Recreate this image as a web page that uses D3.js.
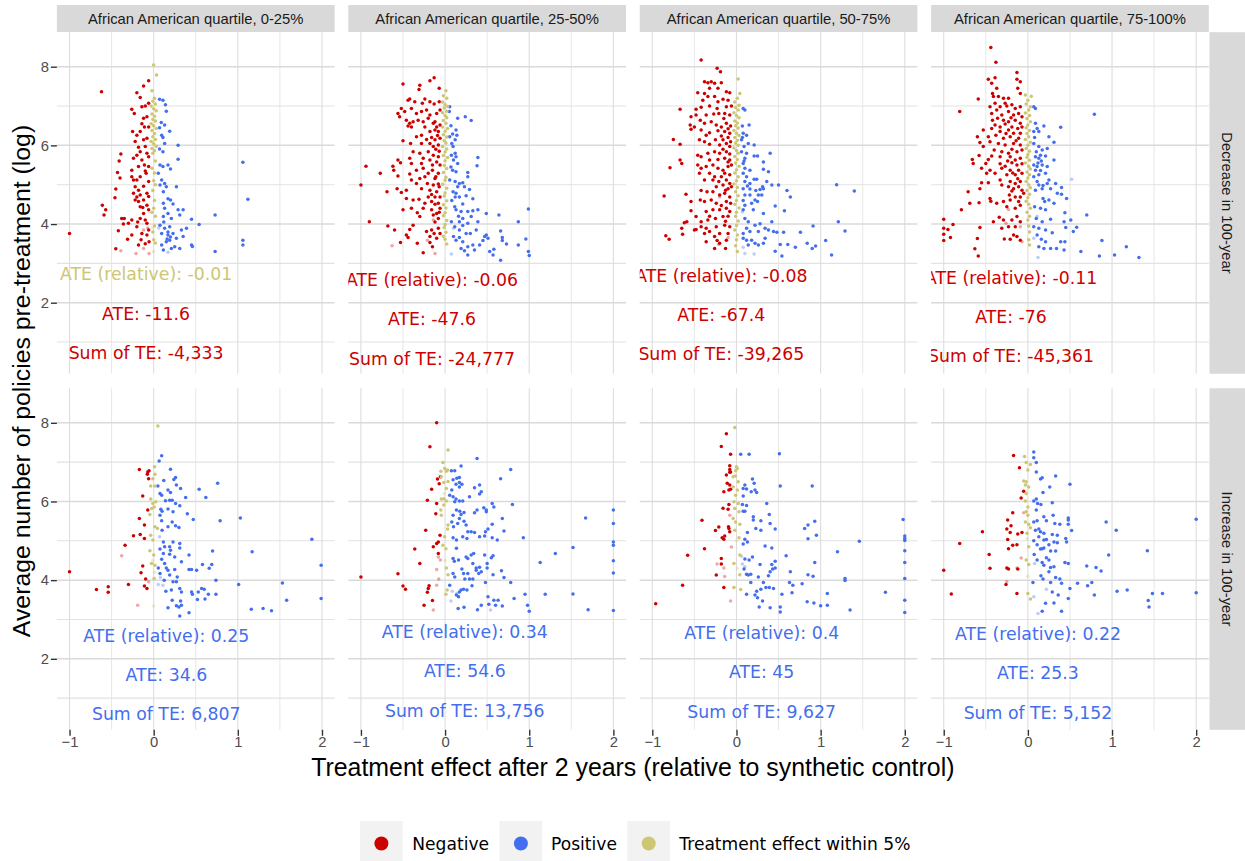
<!DOCTYPE html>
<html><head><meta charset="utf-8">
<script src="https://cdn.jsdelivr.net/npm/d3@7"></script>
<style>body{margin:0;background:#fff}svg{display:block}</style>
</head><body><svg id="c" width="1245" height="861"></svg>
<script>
// ---------------- DATA ----------------
const colLabels = ["African American quartile, 0-25%","African American quartile, 25-50%","African American quartile, 50-75%","African American quartile, 75-100%"];
const rowLabels = ["Decrease in 100-year","Increase in 100-year"];
const xMajor = [-1,0,1,2], xMinor = [-0.5,0.5,1.5];
const yMajor = [2,4,6,8], yMinor = [1,3,5,7];
const legendLabels = ["Negative","Positive","Treatment effect within 5%"];
const xTitle = "Treatment effect after 2 years (relative to synthetic control)";
const yTitle = "Average number of policies pre-treatment (log)";

// points: [x, y] ; third element 1 = faded point
const dec_q1_neg = [[-0.62,7.36],[-1.0,3.76],[-0.61,4.48],[-0.59,4.23],[-0.57,4.36],[-0.45,4.89],[-0.46,4.67],[-0.43,5.31],[-0.41,5.6],[-0.39,5.78],[-0.40,5.17],[-0.42,3.83],[-0.45,3.37],[-0.38,4.14],[-0.35,4.14],[-0.36,4.0],[-0.31,3.61],[-0.26,4.1],[-0.26,3.72],[-0.2,3.93],[-0.18,3.47],[-0.2,7.34],[-0.16,7.22],[-0.12,7.51],[-0.06,7.64],[-0.26,6.92],[-0.23,6.81],[-0.25,6.35],[-0.2,6.26],[-0.16,6.35],[-0.12,6.69],[-0.08,6.73],[-0.06,7.07],[-0.1,7.0],[-0.14,6.98],[-0.11,6.47],[-0.06,6.47],[-0.08,6.18],[-0.12,6.14],[-0.1,5.97],[-0.16,5.84],[-0.08,5.8],[-0.06,5.71],[-0.14,5.63],[-0.2,5.75],[-0.24,5.67],[-0.11,5.5],[-0.06,5.46],[-0.18,5.46],[-0.26,5.37],[-0.24,5.12],[-0.2,5.12],[-0.16,5.2],[-0.09,5.29],[-0.06,5.08],[-0.12,4.96],[-0.18,4.86],[-0.24,4.78],[-0.2,4.69],[-0.16,4.74],[-0.08,4.78],[-0.06,4.7],[-0.12,4.61],[-0.18,4.57],[-0.22,4.61],[-0.16,4.44],[-0.08,4.48],[-0.12,4.27],[-0.06,4.36],[-0.1,4.1],[-0.16,4.14],[-0.08,4.02],[-0.06,3.85],[-0.14,3.76],[-0.08,3.72],[-0.055,3.55],[-0.15,3.6],[-0.1,3.5],[-0.22,6.1],[-0.14,6.55],[-0.18,5.95],[-0.1,5.35],[-0.22,4.95],[-0.13,4.42],[-0.19,4.05],[-0.26,5.2],[-0.3,4.02],[-0.39,3.32,1],[-0.21,3.25,1],[-0.12,3.38,1],[-0.055,3.25,1],[-0.12,3.85,1],[-0.07,3.9,1]];
const dec_q1_pos = [[0.07,7.17],[0.11,7.15],[0.14,7.03],[0.15,6.87],[0.09,6.58],[0.13,6.52],[0.07,6.45],[0.19,6.36],[0.095,6.26],[0.11,6.2],[0.13,6.05],[0.29,6.0],[0.07,5.91],[0.11,5.84],[0.29,5.65],[0.075,5.5],[0.11,5.46],[0.17,5.5],[0.2,5.4],[0.055,5.29],[0.095,5.12],[0.13,5.03],[0.075,4.99],[0.15,4.95],[0.27,4.95],[0.115,4.82],[0.17,4.64],[0.2,4.61],[0.115,4.53],[0.23,4.51],[0.13,4.4],[0.29,4.36],[0.35,4.36],[0.17,4.27],[0.115,4.19],[0.21,4.14],[0.31,4.23],[0.45,4.12],[0.54,3.99],[0.73,4.23],[0.075,3.97],[0.13,3.89],[0.19,3.93],[0.095,3.76],[0.17,3.72],[0.23,3.76],[0.33,3.85],[0.39,3.89],[0.45,3.47],[0.46,3.43],[0.35,3.68],[0.27,3.64],[0.19,3.59],[0.15,3.55],[0.095,3.47],[0.21,3.38],[0.115,3.34],[0.31,3.38],[0.25,3.42],[0.73,3.3],[1.06,5.57],[1.12,4.63],[1.06,3.59],[1.06,3.47],[0.16,3.62],[0.2,3.67],[0.12,4.05],[0.17,3.8],[0.17,3.28,1],[0.06,3.9,1]];
const dec_q1_within = [[0.0,8.04],[0.035,7.79],[-0.02,7.39],[0.01,7.2],[-0.01,7.12],[0.02,7.05],[-0.03,7.0],[0.0,6.93],[0.03,6.88],[-0.02,6.8],[0.01,6.74],[-0.01,6.66],[0.02,6.62],[-0.03,6.55],[0.0,6.5],[0.03,6.43],[-0.02,6.38],[0.01,6.3],[-0.01,6.22],[0.02,6.15],[-0.03,6.1],[0.0,6.04],[0.03,5.98],[-0.02,5.92],[0.01,5.86],[-0.01,5.8],[0.02,5.6],[-0.02,5.42],[0.01,5.3],[0.0,5.1],[0.02,5.0],[-0.01,4.85],[0.01,4.6],[0.0,4.4],[-0.02,4.3],[0.02,4.2],[0.01,3.95],[-0.01,3.8],[0.0,3.6],[0.02,3.52],[0.0,3.3,1],[-0.02,3.9,1]];

const dec_q2_neg = [[-0.5,7.56],[-0.3,7.53],[-0.31,7.42],[-0.18,7.64],[-0.13,7.72],[-0.07,7.45],[-0.44,7.15],[-0.42,7.18],[-0.36,7.11],[-0.27,7.07],[-0.24,7.18],[-0.18,7.11],[-0.13,7.05],[-0.07,7.11],[-0.52,6.94],[-0.56,6.81],[-0.54,6.73],[-0.48,6.86],[-0.4,6.94],[-0.34,6.81],[-0.28,6.86],[-0.22,6.9],[-0.18,6.77],[-0.1,6.81],[-0.06,6.9],[-0.46,6.64],[-0.42,6.56],[-0.38,6.6],[-0.44,6.49],[-0.4,6.47],[-0.32,6.64],[-0.26,6.6],[-0.2,6.69],[-0.24,6.47],[-0.14,6.56],[-0.1,6.47],[-0.06,6.52],[-0.12,6.39],[-0.08,6.35],[-0.18,6.35],[-0.34,6.22],[-0.28,6.26],[-0.22,6.15],[-0.5,6.12],[-0.41,6.05],[-0.28,6.05],[-0.18,6.05],[-0.12,6.14],[-0.08,6.01],[-0.14,5.97],[-0.06,6.18],[-0.38,5.84],[-0.3,5.8],[-0.2,5.84],[-0.14,5.75],[-0.08,5.71],[-0.42,5.67],[-0.26,5.67],[-0.18,5.63],[-0.56,5.63],[-0.53,5.56],[-0.4,5.54],[-0.28,5.54],[-0.1,5.58],[-0.06,5.5],[-0.94,5.47],[-0.77,5.29],[-0.62,5.47],[-0.61,5.37],[-0.56,5.22],[-0.42,5.27],[-0.34,5.37],[-0.26,5.42],[-0.2,5.29],[-0.15,5.37],[-0.08,5.29],[-0.3,5.16],[-0.24,5.2],[-0.12,5.16],[-0.4,5.12],[-1.0,4.99],[-0.34,5.03],[-0.21,5.03],[-0.14,4.99],[-0.08,5.02],[-0.57,4.9],[-0.46,4.86],[-0.69,4.82],[-0.52,4.8],[-0.28,4.9],[-0.18,4.86],[-0.1,4.82],[-0.2,4.69],[-0.12,4.69],[-0.06,4.69],[-0.46,4.65],[-0.38,4.61],[-0.31,4.63],[-0.24,4.53],[-0.16,4.57],[-0.08,4.53],[-0.5,4.36],[-0.4,4.4],[-0.33,4.29],[-0.3,4.19],[-0.26,4.4],[-0.16,4.36],[-0.1,4.27],[-0.06,4.4],[-0.14,4.23],[-0.08,4.14],[-0.9,4.06],[-0.68,3.95],[-0.6,3.85],[-0.42,3.86],[-0.38,3.97],[-0.46,3.72],[-0.44,3.66],[-0.22,3.81],[-0.16,3.85],[-0.13,3.76],[-0.08,3.89],[-0.06,3.76],[-0.18,3.68],[-0.1,3.64],[-0.53,3.53],[-0.33,3.51],[-0.18,3.53],[-0.26,3.27],[-0.15,3.42],[-0.12,6.6],[-0.09,6.25],[-0.16,6.2],[-0.11,5.9],[-0.07,5.85],[-0.15,5.5],[-0.11,5.2],[-0.07,4.95],[-0.16,4.75],[-0.12,4.5],[-0.07,4.3],[-0.12,4.05],[-0.63,3.45,1],[-0.21,3.59,1],[-0.12,3.25,1],[-0.14,4.1,1]];
const dec_q2_pos = [[0.055,6.98],[0.05,6.86],[0.15,6.69],[0.24,6.73],[0.31,6.63],[0.13,6.39],[0.09,6.29],[0.14,6.26],[0.12,6.14],[0.055,6.22],[0.095,5.97],[0.12,5.8],[0.075,5.75],[0.13,5.71],[0.1,5.63],[0.39,5.69],[0.38,5.48],[0.15,5.54],[0.09,5.37],[0.13,5.33],[0.27,5.31],[0.27,5.2],[0.055,5.12],[0.12,5.08],[0.17,5.03],[0.21,5.05],[0.15,4.95],[0.23,4.95],[0.29,4.88],[0.095,4.82],[0.13,4.78],[0.12,4.69],[0.17,4.69],[0.33,4.64],[0.25,4.72],[0.115,4.44],[0.21,4.51],[0.13,4.36],[0.19,4.32],[0.27,4.32],[0.33,4.34],[0.39,4.36],[0.49,4.27],[0.64,4.23],[0.99,4.38],[0.16,4.2],[0.21,4.14],[0.31,4.19],[0.075,4.06],[0.17,4.06],[0.115,3.93],[0.21,3.96],[0.27,4.02],[0.39,4.06],[0.87,4.06],[0.17,3.85],[0.25,3.76],[0.3,3.76],[0.37,3.85],[0.49,3.72],[0.47,3.68],[0.51,3.64],[0.45,3.58],[0.41,3.47],[0.66,3.82],[0.68,3.66],[0.68,3.58],[0.73,3.49],[0.87,3.47],[0.96,3.62],[0.1,3.68],[0.13,3.59],[0.17,3.66],[0.21,3.55],[0.19,3.38],[0.23,3.32],[0.27,3.42],[0.33,3.47],[0.27,3.21],[0.35,3.34],[0.53,3.3],[0.58,3.36],[0.57,3.21],[0.66,3.08],[0.99,3.3],[1.0,3.2],[0.07,6.5],[0.08,6.05],[0.07,5.45],[0.08,4.6],[0.075,3.24,1],[0.1,3.89,1]];
const dec_q2_within = [[0.01,7.39],[-0.02,7.26],[0.02,7.2],[-0.03,7.1],[0.0,7.04],[0.03,6.99],[-0.01,6.95],[0.02,6.87],[-0.03,6.83],[0.0,6.76],[0.02,6.7],[-0.02,6.63],[0.01,6.56],[-0.03,6.47],[0.03,6.43],[0.0,6.36],[-0.02,6.27],[0.02,6.21],[-0.01,6.12],[0.01,6.06],[-0.03,5.97],[0.02,5.91],[0.0,5.83],[-0.02,5.74],[0.03,5.69],[0.0,5.61],[-0.01,5.49],[0.02,5.41],[-0.02,5.31],[0.01,5.19],[0.0,5.11],[-0.03,5.01],[0.02,4.91],[0.0,4.79],[-0.01,4.71],[0.02,4.59],[-0.02,4.49],[0.01,4.41],[0.0,4.29],[-0.02,4.21],[0.02,4.09],[0.0,3.99],[-0.01,3.91],[0.01,3.79],[-0.02,3.69],[0.0,3.61],[0.02,3.49]];

const dec_q3_neg = [[-0.42,8.17],[-0.23,7.96],[-0.19,7.87],[-0.38,7.62],[-0.34,7.59],[-0.3,7.62],[-0.26,7.58],[-0.18,7.59],[-0.12,7.36],[-0.08,7.34],[-0.46,7.34],[-0.32,7.45],[-0.22,7.45],[-0.38,7.32],[-0.34,7.24],[-0.26,7.24],[-0.4,7.15],[-0.22,7.11],[-0.16,7.17],[-0.1,7.15],[-0.67,6.92],[-0.48,6.92],[-0.42,6.97],[-0.32,7.0],[-0.23,6.94],[-0.12,6.98],[-0.06,7.0],[-0.54,6.73],[-0.48,6.77],[-0.36,6.77],[-0.27,6.8],[-0.21,6.81],[-0.14,6.81],[-0.08,6.77],[-0.55,6.52],[-0.5,6.47],[-0.43,6.64],[-0.38,6.56],[-0.3,6.6],[-0.24,6.52],[-0.18,6.47],[-0.12,6.56],[-0.07,6.49],[-0.54,6.41],[-0.42,6.39],[-0.32,6.32],[-0.22,6.37],[-0.14,6.35],[-0.08,6.31],[-0.36,6.26],[-0.18,6.24],[-0.1,6.2],[-0.75,6.15],[-0.67,6.03],[-0.44,6.14],[-0.38,6.09],[-0.25,6.14],[-0.16,6.14],[-0.12,6.05],[-0.07,6.09],[-0.32,6.03],[-0.2,6.01],[-0.08,5.97],[-0.46,5.75],[-0.42,5.71],[-0.34,5.8],[-0.26,5.84],[-0.2,5.8],[-0.12,5.84],[-0.08,5.78],[-0.32,5.63],[-0.22,5.64],[-0.14,5.67],[-0.08,5.63],[-0.67,5.63],[-0.65,5.54],[-0.79,5.43],[-0.46,5.5],[-0.42,5.42],[-0.36,5.46],[-0.28,5.5],[-0.22,5.42],[-0.16,5.37],[-0.1,5.46],[-0.06,5.5],[-0.44,5.29],[-0.32,5.29],[-0.26,5.2],[-0.14,5.29],[-0.08,5.25],[-0.38,5.12],[-0.28,5.12],[-0.21,5.08],[-0.12,5.12],[-0.08,5.03],[-0.24,4.95],[-0.16,4.99],[-0.1,4.9],[-0.06,4.95],[-0.86,4.71],[-0.6,4.76],[-0.42,4.85],[-0.35,4.82],[-0.28,4.82],[-0.2,4.74],[-0.14,4.78],[-0.08,4.69],[-0.54,4.57],[-0.43,4.61],[-0.38,4.57],[-0.3,4.61],[-0.24,4.53],[-0.12,4.57],[-0.07,4.53],[-0.54,4.34],[-0.36,4.32],[-0.28,4.36],[-0.2,4.36],[-0.12,4.4],[-0.08,4.32],[-0.48,4.19],[-0.32,4.2],[-0.25,4.14],[-0.16,4.19],[-0.1,4.2],[-0.59,4.06],[-0.62,4.03],[-0.42,4.06],[-0.34,4.1],[-0.65,3.89],[-0.48,3.86],[-0.42,3.93],[-0.36,3.89],[-0.24,3.93],[-0.14,3.97],[-0.08,3.93],[-0.84,3.7],[-0.8,3.61],[-0.64,3.74],[-0.5,3.85],[-0.38,3.76],[-0.32,3.81],[-0.26,3.68],[-0.2,3.76],[-0.1,3.76],[-0.36,3.55],[-0.23,3.58],[-0.2,3.51],[-0.12,3.59],[-0.26,3.38],[-0.13,3.38],[-0.15,6.68],[-0.1,6.42],[-0.16,5.9],[-0.1,5.58],[-0.18,5.2],[-0.13,4.86],[-0.18,4.47],[-0.13,4.07],[-0.2,4.69,1],[-0.21,3.48,1],[-0.1,3.66,1]];
const dec_q3_pos = [[0.08,6.94],[0.1,6.9],[0.15,6.52],[0.07,6.49],[0.08,6.31],[0.12,6.26],[0.06,6.14],[0.14,6.05],[0.21,6.01],[0.09,5.97],[0.06,5.84],[0.12,5.8],[0.21,5.73],[0.25,5.73],[0.4,5.8],[0.1,5.67],[0.08,5.54],[0.32,5.58],[0.1,5.42],[0.16,5.37],[0.32,5.39],[0.38,5.33],[0.08,5.29],[0.12,5.2],[0.21,5.14],[0.24,5.14],[0.1,5.08],[0.16,5.03],[0.36,5.08],[0.42,4.99],[0.5,4.99],[0.31,4.95],[0.08,4.9],[0.16,4.89],[0.23,4.85],[0.28,4.88],[0.32,4.9],[0.6,4.85],[0.64,4.69],[1.19,5.0],[1.4,4.84],[0.1,4.74],[0.16,4.74],[0.26,4.74],[0.3,4.74],[0.22,4.61],[0.25,4.57],[0.1,4.48],[0.18,4.53],[0.08,4.36],[0.2,4.36],[0.32,4.27],[0.46,4.46],[0.57,4.34],[0.1,4.14],[0.14,4.06],[0.22,3.97],[0.28,4.01],[0.34,3.89],[0.42,4.06],[0.12,3.89],[0.08,3.76],[0.16,3.81],[0.26,3.81],[0.38,3.85],[0.44,3.81],[0.48,3.79],[0.56,3.79],[0.76,3.79],[0.91,3.95],[1.21,4.06],[1.29,3.82],[0.08,3.64],[0.12,3.59],[0.18,3.59],[0.22,3.51],[0.26,3.47],[0.32,3.51],[0.14,3.47],[0.34,3.64],[0.52,3.48],[0.61,3.48],[0.7,3.41],[0.84,3.51],[0.9,3.38],[0.94,3.44],[1.06,3.58],[1.13,3.21],[0.46,3.31],[0.54,3.19],[0.07,6.2],[0.09,5.6],[0.13,4.97],[0.08,4.6],[0.08,3.41,1],[0.1,3.25,1],[0.21,3.24,1],[0.07,4.31,1]];
const dec_q3_within = [[0.02,7.69],[0.04,7.32],[0.01,7.2],[-0.02,7.1],[0.03,7.02],[-0.01,6.96],[0.02,6.9],[-0.03,6.83],[0.0,6.76],[0.03,6.7],[-0.02,6.62],[0.01,6.57],[-0.01,6.5],[0.02,6.44],[-0.03,6.38],[0.0,6.31],[0.03,6.25],[-0.02,6.2],[0.01,6.13],[-0.01,6.06],[0.02,6.0],[-0.03,5.93],[0.0,5.87],[0.02,5.8],[-0.02,5.72],[0.01,5.64],[-0.01,5.55],[0.03,5.47],[0.0,5.38],[-0.02,5.3],[0.02,5.2],[0.0,5.1],[-0.03,5.02],[0.01,4.93],[-0.01,4.82],[0.02,4.72],[0.0,4.6],[-0.02,4.5],[0.03,4.41],[0.0,4.3],[-0.01,4.2],[0.02,4.08],[0.0,3.96],[-0.02,3.85],[0.01,3.72],[0.0,3.6],[-0.01,3.45],[0.01,3.3]];

const dec_q4_neg = [[-0.44,8.49],[-0.38,8.11],[-0.47,7.68],[-0.39,7.72],[-0.43,7.58],[-0.13,7.85],[-0.13,7.68],[-0.09,7.62],[-0.37,7.45],[-0.42,7.32],[-0.41,7.24],[-0.35,7.24],[-0.29,7.2],[-0.23,7.2],[-0.09,7.32],[-0.12,7.45],[-0.59,7.18],[-0.81,6.86],[-0.45,6.98],[-0.39,7.07],[-0.33,6.98],[-0.27,7.07],[-0.19,7.03],[-0.15,6.94],[-0.09,6.98],[-0.43,6.81],[-0.37,6.9],[-0.31,6.77],[-0.23,6.86],[-0.17,6.77],[-0.11,6.81],[-0.07,6.73],[-0.42,6.64],[-0.36,6.69],[-0.29,6.64],[-0.23,6.6],[-0.15,6.64],[-0.09,6.56],[-0.39,6.52],[-0.33,6.47],[-0.27,6.54],[-0.19,6.47],[-0.12,6.43],[-0.07,6.47],[-0.53,6.39],[-0.43,6.43],[-0.33,6.35],[-0.23,6.39],[-0.17,6.31],[-0.09,6.31],[-0.6,6.22],[-0.47,6.22],[-0.38,6.26],[-0.29,6.18],[-0.21,6.22],[-0.11,6.18],[-0.57,6.07],[-0.53,5.97],[-0.45,6.09],[-0.35,6.05],[-0.27,6.01],[-0.17,6.05],[-0.09,6.01],[-0.4,5.88],[-0.31,5.84],[-0.23,5.8],[-0.13,5.84],[-0.07,5.88],[-0.58,5.74],[-0.43,5.73],[-0.47,5.64],[-0.33,5.71],[-0.21,5.71],[-0.15,5.63],[-0.09,5.67],[-0.66,5.64],[-0.65,5.54],[-0.5,5.54],[-0.33,5.53],[-0.27,5.47],[-0.19,5.56],[-0.13,5.5],[-0.07,5.53],[-0.55,5.42],[-0.45,5.37],[-0.31,5.42],[-0.21,5.37],[-0.11,5.37],[-0.49,5.29],[-0.39,5.29],[-0.25,5.25],[-0.15,5.25],[-0.07,5.29],[-0.55,5.05],[-0.47,5.05],[-0.33,5.12],[-0.21,5.08],[-0.15,5.03],[-0.09,5.08],[-0.31,4.99],[-0.23,4.95],[-0.17,4.9],[-0.11,4.95],[-0.07,4.86],[-0.71,4.82],[-0.57,4.9],[-0.69,4.53],[-0.79,4.36],[-0.58,4.54],[-0.45,4.65],[-0.44,4.58],[-0.37,4.53],[-0.29,4.57],[-0.22,4.74],[-0.15,4.69],[-0.09,4.69],[-0.21,4.61],[-0.11,4.57],[-0.25,4.44],[-0.15,4.4],[-0.09,4.48],[-1.0,4.12],[-1.0,3.89],[-0.95,3.86],[-0.89,3.99],[-1.0,3.74],[-0.92,3.66],[-1.0,3.58],[-0.57,3.91],[-0.41,4.06],[-0.34,4.17],[-0.29,4.1],[-0.31,3.89],[-0.23,3.93],[-0.19,4.1],[-0.13,4.19],[-0.09,4.06],[-0.15,3.93],[-0.6,3.63],[-0.63,3.37],[-0.59,3.19],[-0.28,3.62],[-0.21,3.61],[-0.17,3.72],[-0.13,3.68],[-0.09,3.59],[-0.25,7.0],[-0.2,6.7],[-0.26,6.3],[-0.14,6.12],[-0.19,5.9],[-0.24,5.6],[-0.18,5.3],[-0.12,5.15],[-0.19,4.84],[-0.05,4.78],[-0.23,4.37,1],[-0.09,3.93,1],[-0.07,3.55,1],[-0.26,4.02,1]];
const dec_q4_pos = [[0.07,6.98],[0.09,6.94],[0.79,6.79],[0.09,6.56],[0.19,6.49],[0.39,6.46],[0.11,6.43],[0.07,6.35],[0.13,6.35],[0.25,6.22],[0.31,6.08],[0.07,6.05],[0.13,5.97],[0.17,5.88],[0.23,5.92],[0.1,5.84],[0.15,5.75],[0.21,5.73],[0.09,5.71],[0.13,5.67],[0.31,5.63],[0.07,5.5],[0.11,5.46],[0.17,5.5],[0.23,5.46],[0.09,5.37],[0.15,5.36],[0.21,5.29],[0.07,5.2],[0.13,5.25],[0.25,5.12],[0.23,5.03],[0.33,5.03],[0.11,5.08],[0.13,4.99],[0.09,4.86],[0.17,4.9],[0.27,4.9],[0.35,4.78],[0.4,4.93],[0.4,4.76],[0.46,4.65],[0.18,4.65],[0.2,4.57],[0.25,4.61],[0.31,4.53],[0.08,4.44],[0.15,4.4],[0.21,4.36],[0.44,4.29],[0.7,4.23],[0.1,4.14],[0.17,4.06],[0.27,4.12],[0.51,4.1],[0.43,4.06],[0.07,3.93],[0.13,3.89],[0.21,3.85],[0.29,3.78],[0.45,3.91],[0.54,3.81],[0.58,3.92],[0.11,3.72],[0.16,3.61],[0.21,3.55],[0.39,3.55],[0.44,3.55],[0.88,3.58],[0.13,3.42],[0.19,3.38],[0.27,3.38],[0.34,3.38],[0.43,3.34],[0.63,3.3],[0.85,3.19],[1.03,3.21],[1.17,3.42],[1.32,3.15],[0.08,6.2],[0.16,5.6],[0.12,5.55],[0.18,4.98],[0.12,3.15,1],[0.52,5.14,1],[0.07,3.64,1],[0.11,4.2,1]];
const dec_q4_within = [[-0.03,7.28],[0.04,7.25],[0.0,7.15],[-0.02,7.05],[0.03,6.98],[0.01,6.9],[-0.03,6.82],[0.02,6.76],[-0.01,6.68],[0.03,6.6],[0.0,6.52],[-0.02,6.45],[0.02,6.38],[-0.01,6.3],[0.01,6.22],[-0.03,6.15],[0.03,6.08],[0.0,6.0],[-0.02,5.92],[0.02,5.85],[0.0,5.77],[-0.01,5.7],[0.02,5.62],[-0.03,5.55],[0.01,5.47],[0.03,5.4],[-0.01,5.32],[0.02,5.25],[0.0,5.17],[-0.02,5.08],[0.01,5.0],[0.03,4.92],[-0.01,4.85],[0.02,4.76],[0.0,4.67],[-0.02,4.58],[0.01,4.5],[0.03,4.4],[-0.01,4.3],[0.02,4.2],[0.0,4.1],[0.01,3.95],[0.02,3.8],[0.01,3.6],[0.02,3.47]];

const inc_q1_neg = [[-1.0,4.21],[-0.68,3.76],[-0.54,3.83],[-0.54,3.69],[-0.3,3.89],[-0.34,4.89],[-0.24,5.13],[-0.17,6.81],[-0.07,6.75],[-0.055,6.78],[-0.075,6.69],[-0.06,6.58],[-0.13,6.14],[-0.07,5.78],[-0.17,5.57],[-0.11,5.4],[-0.16,5.16],[-0.11,5.06],[-0.13,4.36],[-0.15,4.19],[-0.095,4.03],[-0.11,3.85],[-0.08,3.79],[-0.38,4.62,1],[-0.19,3.36,1],[-0.06,3.96,1]];
const inc_q1_pos = [[0.095,7.16],[0.065,7.03],[0.2,6.82],[0.12,6.53],[0.24,6.56],[0.26,6.61],[0.27,6.42],[0.32,6.33],[0.05,6.39],[0.075,6.2],[0.095,6.16],[0.17,6.29],[0.2,6.23],[0.54,6.31],[0.76,6.46],[0.62,6.1],[0.38,6.1],[0.14,6.02],[0.19,6.03],[0.22,6.03],[0.26,5.95],[0.31,5.89],[0.085,5.8],[0.1,5.75],[0.17,5.81],[0.23,5.74],[0.075,5.65],[0.22,5.48],[0.4,5.69],[0.47,5.54],[0.79,5.51],[1.03,5.58],[0.095,5.51],[0.17,5.36],[0.26,5.38],[0.3,5.34],[0.1,5.27],[0.115,4.97],[0.23,4.97],[0.31,4.93],[0.075,4.79],[0.13,4.85],[0.19,4.85],[0.2,4.76],[0.31,4.82],[0.7,4.74],[1.17,4.72],[0.115,4.68],[0.19,4.66],[0.25,4.59],[0.42,4.64],[0.33,4.47],[0.095,4.53],[0.13,4.42],[0.58,4.4],[0.69,4.4],[0.66,4.3],[0.055,4.31],[0.15,4.31],[0.17,4.25],[0.25,4.27],[0.42,4.27],[0.45,4.27],[0.51,4.25],[0.075,4.17],[0.19,4.13],[0.28,4.08],[1.99,4.38],[1.88,5.04],[0.125,4.0],[0.23,3.96],[0.27,3.96],[0.74,4.0],[1.01,3.89],[1.53,3.93],[0.145,3.72],[0.21,3.75],[0.31,3.79],[0.33,3.7],[0.45,3.7],[0.46,3.64],[0.53,3.7],[0.57,3.79],[0.6,3.77],[0.65,3.64],[0.74,3.64],[0.52,3.51],[0.61,3.52],[0.17,3.3],[0.22,3.49],[0.27,3.35],[0.32,3.47],[0.33,3.36],[0.3,3.32],[0.31,3.09],[0.42,3.17],[1.16,3.26],[1.3,3.28],[1.4,3.22],[1.58,3.49],[1.99,3.53],[0.07,5.1,1],[0.08,4.07,1],[0.11,3.87,1],[0.055,3.89,1]];
const inc_q1_within = [[0.05,7.92],[0.01,6.88],[0.015,6.69],[-0.01,6.58],[-0.035,6.39],[0.015,6.39],[-0.035,6.06],[-0.01,5.95],[0.005,5.86],[0.025,5.99],[-0.025,5.82],[-0.045,5.67],[0.015,5.36],[0.045,5.31],[-0.035,5.14],[-0.01,5.02],[-0.045,4.75],[0.0,4.64],[-0.025,4.42],[0.015,4.38],[0.005,4.04],[0.0,3.34,1],[-0.01,4.5,1],[0.01,4.2,1]];

const inc_q2_neg = [[-1.0,4.08],[-0.56,4.16],[-0.5,3.85],[-0.47,3.77],[-0.3,4.42],[-0.36,4.79],[-0.25,3.36],[-0.21,3.69],[-0.2,3.79],[-0.19,3.86],[-0.15,3.48],[-0.1,8.0],[-0.18,7.39],[-0.09,6.57],[-0.07,6.45],[-0.055,6.63],[-0.16,6.31],[-0.21,6.03],[-0.1,5.95],[-0.11,5.69],[-0.23,5.27],[-0.06,5.14],[-0.08,4.97],[-0.14,4.85],[-0.1,4.93],[-0.08,4.68],[-0.08,4.59,1],[-0.1,4.27,1],[-0.075,4.03,1],[-0.1,3.87,1],[-0.14,3.24,1],[-0.055,4.51,1]];
const inc_q2_pos = [[0.38,7.09],[0.19,6.9],[0.78,6.81],[0.075,6.78],[0.115,6.78],[0.66,6.58],[0.095,6.55],[0.14,6.59],[0.17,6.61],[0.13,6.44],[0.17,6.48],[0.2,6.44],[0.08,6.29],[0.17,6.37],[0.35,6.35],[0.41,6.42],[0.43,6.25],[0.41,6.19],[0.055,6.16],[0.095,6.12],[0.13,6.06],[0.17,6.01],[0.115,5.99],[0.21,6.01],[0.29,6.12],[0.56,5.95],[0.58,5.86],[0.8,5.92],[0.135,5.78],[0.175,5.75],[0.225,5.72],[0.35,5.71],[0.38,5.78],[0.46,5.84],[0.49,5.78],[0.49,5.74],[0.095,5.65],[0.19,5.67],[0.17,5.57],[0.225,5.5],[0.68,5.57],[1.67,5.58],[2.0,5.78],[2.0,5.44],[0.08,5.48],[0.1,5.36],[0.15,5.44],[0.25,5.4],[0.31,5.23],[0.35,5.21],[0.48,5.23],[0.51,5.3],[0.56,5.42],[0.7,5.25],[0.27,5.23],[0.095,5.08],[0.135,5.02],[0.21,5.1],[0.26,5.06],[0.41,5.1],[0.47,5.12],[0.56,5.08],[0.62,5.02],[0.93,5.08],[1.52,4.83],[1.31,4.68],[2.0,4.97],[2.0,4.89],[0.135,4.81],[0.25,4.59],[0.27,4.55],[0.31,4.64],[0.34,4.68],[0.47,4.64],[0.55,4.57],[0.57,4.62],[0.095,4.55],[0.11,4.48],[0.16,4.51],[0.33,4.42],[0.37,4.31],[0.41,4.33],[0.37,4.25],[0.4,4.17],[0.43,4.21],[0.5,4.42],[0.5,4.31],[1.13,4.45],[2.0,4.49],[2.0,4.18],[0.095,4.17],[0.115,4.08],[0.2,4.28],[0.22,4.17],[0.27,4.17],[0.235,4.03],[0.29,4.03],[0.33,4.03],[0.57,4.14],[0.67,4.24],[0.7,4.07],[0.78,3.94],[0.055,3.87],[0.48,3.94],[0.19,3.75],[0.22,3.77],[0.17,3.7],[0.26,3.75],[0.32,3.86],[0.135,3.62],[0.16,3.58],[0.51,3.58],[0.58,3.49],[0.63,3.49],[0.82,3.53],[0.95,3.64],[1.19,3.64],[1.52,3.65],[0.52,3.39],[0.6,3.36],[0.68,3.34],[0.43,3.36],[0.98,3.36],[1.0,3.21],[0.155,3.28],[0.225,3.31],[0.385,3.25],[1.7,3.25],[2.0,3.23],[0.085,3.72,1],[0.07,3.47,1],[0.14,3.66,1],[0.54,3.24,1]];
const inc_q2_within = [[0.035,7.31],[-0.025,6.99],[-0.005,6.84],[-0.05,6.77],[0.015,6.77],[0.03,6.8],[-0.045,6.63],[-0.015,6.48],[0.035,6.51],[0.015,6.33],[-0.045,6.06],[-0.015,6.07],[0.015,6.01],[-0.05,5.78],[-0.015,5.91],[-0.045,5.65],[0.035,5.4],[0.03,5.3],[-0.005,5.1],[-0.025,4.89],[0.01,4.8],[0.015,4.31],[0.035,4.14],[0.01,3.64],[0.025,3.75],[0.0,4.5,1],[-0.01,6.2,1]];

const inc_q3_neg = [[-0.96,3.4],[-0.64,3.87],[-0.58,4.63],[-0.38,4.8],[-0.41,5.52],[-0.25,5.26],[-0.21,5.35],[-0.17,5.08],[-0.14,5.12],[-0.15,5.04],[-0.095,5.36],[-0.08,5.23],[-0.09,5.31],[-0.1,5.8],[-0.09,5.92],[-0.16,5.83],[-0.15,6.25],[-0.09,6.29],[-0.07,6.31],[-0.11,6.46],[-0.08,6.42],[-0.12,6.67],[-0.08,6.74],[-0.08,6.81],[-0.07,6.75],[-0.08,6.91],[-0.07,7.2],[-0.18,7.4],[-0.12,7.72],[-0.18,4.55],[-0.18,4.41],[-0.24,4.13],[-0.15,3.81],[-0.23,4.41,1],[-0.15,4.31,1],[-0.14,4.09,1],[-0.06,4.84,1],[-0.07,3.47,1],[-0.08,5.65,1]];
const inc_q3_pos = [[0.05,7.2],[0.15,7.2],[0.51,7.21],[0.9,6.39],[0.52,6.39],[0.19,6.57],[0.21,6.46],[0.1,6.42],[0.08,6.33],[0.12,6.32],[0.22,6.29],[0.24,6.23],[0.175,6.25],[0.08,6.14],[0.36,5.95],[0.07,5.92],[0.12,5.9],[0.08,5.75],[0.1,5.75],[0.39,5.67],[0.2,5.61],[0.2,5.53],[0.29,5.51],[0.4,5.44],[0.46,5.3],[0.29,5.27],[0.23,5.31],[0.13,5.21],[0.81,5.31],[0.85,5.4],[0.93,5.5],[0.95,5.14],[0.85,5.05],[0.1,5.04],[0.08,4.92],[0.13,4.97],[0.34,4.87],[0.42,4.82],[1.46,4.99],[1.2,4.72],[0.1,4.54],[0.15,4.51],[0.19,4.59],[0.28,4.4],[0.42,4.4],[0.46,4.48],[0.59,4.62],[0.93,4.45],[0.4,4.21],[0.43,4.28],[0.46,4.31],[0.09,4.28],[0.12,4.15],[0.14,4.13],[0.17,4.15],[0.26,4.08],[0.38,4.11],[0.64,4.21],[0.85,4.14],[0.91,4.1],[0.17,3.94],[0.32,3.94],[0.35,3.81],[0.39,3.81],[0.44,3.79],[0.29,3.77],[0.24,3.72],[0.63,3.94],[0.67,3.87],[0.78,3.91],[1.29,4.04],[1.29,3.99],[0.12,3.64],[0.22,3.62],[0.25,3.55],[0.54,3.64],[0.66,3.68],[1.08,3.66],[1.77,3.69],[0.31,3.47],[0.27,3.32],[0.4,3.3],[0.52,3.32],[0.52,3.19],[0.84,3.45],[0.92,3.42],[1.0,3.35],[1.08,3.36],[1.35,3.24],[1.98,5.54],[2.0,5.12],[2.0,5.06],[2.0,5.01],[2.0,4.75],[2.0,4.45],[2.0,4.04],[2.0,3.49],[2.0,3.18],[0.07,4.41,1],[0.1,4.34,1],[0.06,4.61,1]];
const inc_q3_within = [[-0.02,7.88],[0.0,6.88],[-0.01,6.78],[0.01,6.84],[-0.04,6.63],[-0.01,6.65],[0.02,6.5],[-0.04,6.37],[0.01,6.29],[-0.01,6.16],[-0.03,5.99],[0.02,5.95],[-0.02,5.82],[0.03,5.74],[-0.04,5.57],[-0.01,5.48],[0.04,5.42],[-0.02,5.27],[0.03,5.08],[0.04,4.64],[-0.03,4.42],[0.04,4.14],[-0.03,3.81],[0.05,3.76],[0.0,5.0,1],[0.01,4.3,1]];

const inc_q4_neg = [[-1.0,4.25],[-0.91,3.65],[-0.81,4.93],[-0.54,5.23],[-0.46,4.65],[-0.45,4.3],[-0.25,4.31],[-0.23,4.28],[-0.26,3.89],[-0.13,3.66],[-0.12,4.28],[-0.23,4.8],[-0.18,4.89],[-0.13,4.9],[-0.24,5.03],[-0.21,5.21],[-0.25,5.3],[-0.24,5.53],[-0.2,5.38],[-0.18,5.71],[-0.12,5.17],[-0.07,5.21],[-0.08,6.09],[-0.05,6.26],[-0.1,6.86],[-0.17,7.17],[-0.08,4.56,1],[-0.13,4.31,1],[-0.25,3.96,1],[-0.05,5.71,1]];
const inc_q4_pos = [[0.07,7.26],[0.07,7.11],[0.1,6.99],[0.1,6.75],[0.15,6.57],[0.17,6.6],[0.33,6.65],[0.5,6.44],[0.26,6.37],[0.18,6.23],[0.07,6.01],[0.1,6.06],[0.115,5.95],[0.155,5.92],[0.29,5.97],[0.1,5.78],[0.3,5.65],[0.19,5.61],[0.07,5.48],[0.11,5.51],[0.22,5.51],[0.32,5.44],[0.38,5.42],[0.48,5.58],[0.48,5.53],[0.48,5.42],[0.52,5.26],[0.93,5.48],[1.05,5.27],[2.0,5.55],[0.09,5.27],[0.13,5.3],[0.15,5.23],[0.19,5.19],[0.29,5.16],[0.13,5.1],[0.35,5.14],[0.07,5.0],[0.19,5.02],[0.22,5.03],[0.31,4.97],[0.45,5.06],[0.46,4.97],[0.35,4.95],[0.11,4.9],[0.25,4.9],[0.15,4.79],[0.17,4.8],[0.19,4.82],[0.27,4.74],[0.33,4.74],[0.075,4.65],[0.11,4.51],[0.22,4.57],[0.25,4.51],[0.17,4.45],[0.19,4.38],[0.44,4.45],[0.48,4.42],[0.7,4.36],[0.81,4.32],[0.87,4.23],[0.96,4.64],[1.42,4.75],[0.27,4.32],[0.31,4.34],[0.25,4.21],[0.33,4.07],[0.38,4.03],[0.06,3.94],[0.155,4.11],[0.18,4.03],[0.27,3.94],[0.4,3.92],[0.59,3.92],[0.71,3.86],[0.76,3.94],[0.5,3.79],[0.29,3.7],[0.36,3.62],[0.48,3.53],[1.06,3.72],[1.18,3.75],[0.79,3.62],[1.48,3.66],[1.6,3.66],[1.43,3.48],[1.44,3.32],[2.0,3.68],[0.21,3.41],[0.31,3.42],[0.17,3.21],[0.4,3.21],[0.07,3.58,1],[0.12,3.15,1],[0.22,3.77,1],[0.08,4.42,1]];
const inc_q4_within = [[-0.04,7.14],[-0.02,6.99],[0.03,6.94],[0.0,6.8],[-0.05,6.52],[-0.02,6.5],[-0.03,6.42],[0.01,6.37],[-0.02,6.2],[-0.03,6.01],[0.0,5.86],[-0.02,5.74],[0.0,5.65],[-0.03,5.48],[0.01,5.42],[0.03,5.33],[-0.01,5.19],[0.01,4.85],[-0.02,4.51],[0.01,4.4],[0.0,3.66],[0.03,3.52],[0.0,4.1,1],[-0.01,5.05,1]];

// annotations per panel [row][col]
const annRel = [["-0.01","-0.06","-0.08","-0.11"],["0.25","0.34","0.4","0.22"]];
const annATE = [["-11.6","-47.6","-67.4","-76"],["34.6","54.6","45","25.3"]];
const annSum = [["-4,333","-24,777","-39,265","-45,361"],["6,807","13,756","9,627","5,152"]];
const annX = [[-0.09,-0.155,-0.18,-0.2],[0.15,0.234,0.3,0.12]];
const annY = [[2.73,2.58,2.69,2.64],[2.59,2.69,2.66,2.64]];
const annRelCat = [["within","neg","neg","neg"],["pos","pos","pos","pos"]];
const annCat = [["neg","neg","neg","neg"],["pos","pos","pos","pos"]];

// ---------------- DRAW ----------------
const colors = {neg:"#CD0000", pos:"#436EEE", within:"#CDC673"};
const panels = [
  [{neg:dec_q1_neg,pos:dec_q1_pos,within:dec_q1_within},{neg:dec_q2_neg,pos:dec_q2_pos,within:dec_q2_within},{neg:dec_q3_neg,pos:dec_q3_pos,within:dec_q3_within},{neg:dec_q4_neg,pos:dec_q4_pos,within:dec_q4_within}],
  [{neg:inc_q1_neg,pos:inc_q1_pos,within:inc_q1_within},{neg:inc_q2_neg,pos:inc_q2_pos,within:inc_q2_within},{neg:inc_q3_neg,pos:inc_q3_pos,within:inc_q3_within},{neg:inc_q4_neg,pos:inc_q4_pos,within:inc_q4_within}]
];
const SANS = "'Liberation Sans', Arial, sans-serif";
const DJV = "'DejaVu Sans', sans-serif";
const colX = [56.9, 348.3, 639.7, 931.1], pw = 277.7;
const rowY = [32.2, 388.3], ph = 341.5;
const x = d3.scaleLinear().domain([-1.15, 2.15]).range([0, pw]);
const y = d3.scaleLinear().domain([0.195, 8.877]).range([ph, 0]);

const svg = d3.select("#c");
svg.append("rect").attr("width",1245).attr("height",861).attr("fill","#fff");
const defs = svg.append("defs");
defs.append("clipPath").attr("id","pclip").append("rect").attr("width",pw).attr("height",ph);

for (let r = 0; r < 2; r++) {
  for (let c = 0; c < 4; c++) {
    const g = svg.append("g").attr("transform",`translate(${colX[c]},${rowY[r]})`);
    g.selectAll(".vmin").data(xMinor).join("line").attr("class","vmin").attr("x1",d=>x(d)).attr("x2",d=>x(d)).attr("y1",0).attr("y2",ph).attr("stroke","#e4e4e4").attr("stroke-width",0.9);
    g.selectAll(".hmin").data(yMinor).join("line").attr("class","hmin").attr("y1",d=>y(d)).attr("y2",d=>y(d)).attr("x1",0).attr("x2",pw).attr("stroke","#e2e2e2").attr("stroke-width",1.1);
    g.selectAll(".vmaj").data(xMajor).join("line").attr("class","vmaj").attr("x1",d=>x(d)).attr("x2",d=>x(d)).attr("y1",0).attr("y2",ph).attr("stroke","#dddddd").attr("stroke-width",1.1);
    g.selectAll(".hmaj").data(yMajor).join("line").attr("class","hmaj").attr("y1",d=>y(d)).attr("y2",d=>y(d)).attr("x1",0).attr("x2",pw).attr("stroke","#dadada").attr("stroke-width",1.5);
    const cg = g.append("g").attr("clip-path","url(#pclip)");
    const P = panels[r][c];
    ["neg","pos","within"].forEach(k => {
      cg.append("g").selectAll("circle").data(P[k]).join("circle")
        .attr("cx",d=>x(d[0])).attr("cy",d=>y(d[1])).attr("r",1.75)
        .attr("fill",colors[k]).attr("fill-opacity",d=>d[2]?0.35:1);
    });
    const lines = [["ATE (relative): "+annRel[r][c], annRelCat[r][c], 0],["ATE: "+annATE[r][c], annCat[r][c], 1],["Sum of TE: "+annSum[r][c], annCat[r][c], 2]];
    cg.selectAll("text.ann").data(lines).join("text").attr("class","ann")
      .attr("x",x(annX[r][c])).attr("y",d=>y(annY[r][c]-d[2])).attr("dy","0.36em")
      .attr("text-anchor","middle").attr("font-family",DJV).attr("font-size",17.3)
      .attr("fill",d=>colors[d[1]]).text(d=>d[0]);
    if (c === 0) {
      const ax = g.append("g").call(d3.axisLeft(y).tickValues(yMajor).tickSize(6).tickPadding(2).tickFormat(d3.format("d")));
      ax.select(".domain").remove();
      ax.selectAll("line").attr("stroke","#333").attr("stroke-width",1.4);
      ax.selectAll("text").attr("font-family",SANS).attr("font-size",14.8).attr("fill","#4d4d4d");
    }
    if (r === 1) {
      const ax = g.append("g").attr("transform",`translate(0,${ph})`).call(d3.axisBottom(x).tickValues(xMajor).tickSize(6).tickPadding(1).tickFormat(d3.format("d")));
      ax.select(".domain").remove();
      ax.selectAll("line").attr("stroke","#333").attr("stroke-width",1.4);
      ax.selectAll("text").attr("font-family",SANS).attr("font-size",14.8).attr("fill","#4d4d4d");
    }
  }
}
colLabels.forEach((t,c) => {
  svg.append("rect").attr("x",colX[c]).attr("y",5).attr("width",pw).attr("height",27).attr("fill","#d9d9d9");
  svg.append("text").attr("x",colX[c]+pw/2).attr("y",24).attr("text-anchor","middle").attr("font-family",SANS).attr("font-size",14.8).attr("fill","#1a1a1a").text(t);
});
rowLabels.forEach((t,r) => {
  svg.append("rect").attr("x",1209.5).attr("y",rowY[r]).attr("width",35.5).attr("height",ph).attr("fill","#d9d9d9");
  svg.append("text").attr("transform",`translate(1221.5,${rowY[r]+ph/2}) rotate(90)`).attr("text-anchor","middle").attr("font-family",SANS).attr("font-size",14.8).attr("fill","#1a1a1a").text(t);
});
svg.append("text").attr("x",(colX[0]+colX[3]+pw)/2).attr("y",776).attr("text-anchor","middle").attr("font-family",SANS).attr("font-size",24.9).attr("fill","#000").text(xTitle);
svg.append("text").attr("transform",`translate(30,${rowY[0]+(rowY[1]+ph-rowY[0])/2}) rotate(-90)`).attr("text-anchor","middle").attr("font-family",SANS).attr("font-size",24.8).attr("fill","#000").text(yTitle);
// legend
const legX = [360, 499.5, 627.3], legTX = [412.3, 551, 679.3];
const legCats = ["neg","pos","within"];
legendLabels.forEach((t,i) => {
  svg.append("rect").attr("x",legX[i]).attr("y",821).attr("width",42.7).attr("height",40).attr("fill","#f2f2f2");
  svg.append("circle").attr("cx",legX[i]+21.4).attr("cy",843.5).attr("r",7).attr("fill",colors[legCats[i]]);
  svg.append("text").attr("x",legTX[i]).attr("y",849.7).attr("font-family",DJV).attr("font-size",17.1).attr("fill","#000").text(t);
});
</script></body></html>
